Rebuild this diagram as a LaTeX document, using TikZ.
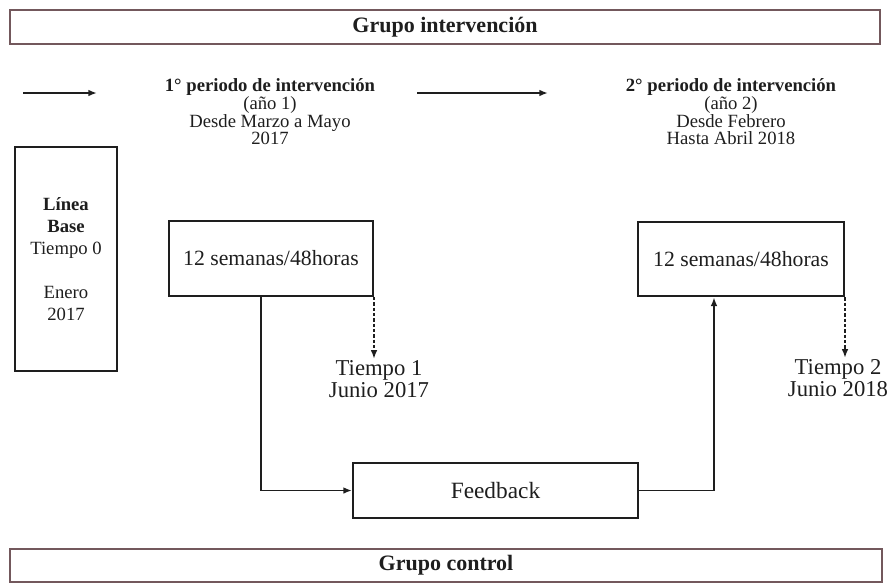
\documentclass[tikz,border=0pt]{standalone}
\usepackage{fontspec}
\setmainfont{Liberation Serif}
\usetikzlibrary{arrows.meta}
\definecolor{ink}{RGB}{30,30,30}
\definecolor{frame}{RGB}{115,88,92}
\begin{document}
\begin{tikzpicture}[x=0.75pt,y=-0.75pt,
  groupbox/.style={draw=frame,line width=1.6pt,fill=white,text=ink,inner sep=0pt,
    font=\fontsize{16.5}{18}\selectfont\bfseries},
  stagebox/.style={draw=ink,line width=1.5pt,inner sep=0pt,text=ink},
  periodtext/.style={align=center,text=ink,inner sep=0pt,font=\fontsize{14}{13.2}\selectfont},
  timetext/.style={align=center,text=ink,inner sep=1pt,font=\fontsize{17}{16.5}\selectfont},
  conn/.style={draw=ink,line width=1.4pt},
  tip/.style={-{Latex[length=6.5pt,width=5pt]}},
  dashconn/.style={draw=ink,line width=1.2pt,dash pattern=on 2.5pt off 1.5pt}
]
\useasboundingbox (0,0) rectangle (891,586);

% group banners
\node[groupbox,minimum width=652.5pt,minimum height=25.5pt] (top) at (445,27) {Grupo intervención};
\node[groupbox,minimum width=654pt,minimum height=24.75pt] (bot) at (446,565.5) {Grupo control};

% period texts
\node[periodtext] (p1) at (270,112) {\textbf{1° periodo de intervención}\\(año 1)\\Desde Marzo a Mayo\\2017};
\node[periodtext] (p2) at (731,112) {\textbf{2° periodo de intervención}\\(año 2)\\Desde Febrero\\Hasta Abril 2018};

% free arrows
\coordinate (a1s) at (23,93);
\coordinate (a1e) at (97,93);
\coordinate (a2s) at (417,93);
\coordinate (a2e) at (548,93);
\draw[conn,tip] (a1s) -- (a1e);
\draw[conn,tip] (a2s) -- (a2e);

% baseline box
\node[stagebox,minimum width=76.5pt,minimum height=168pt,align=center,
  font=\fontsize{14}{16.5}\selectfont] (base) at (66,259)
  {\textbf{Línea}\\\textbf{Base}\\Tiempo 0\\[16pt]Enero\\2017};

% intervention boxes
\node[stagebox,minimum width=153pt,minimum height=56pt,font=\fontsize{16.3}{18}\selectfont] (w1) at (271,258.5) {12 semanas/48horas};
\node[stagebox,minimum width=154.5pt,minimum height=56pt,font=\fontsize{16.3}{18}\selectfont] (w2) at (741,259) {12 semanas/48horas};

% feedback
\node[stagebox,minimum width=213.75pt,minimum height=41.25pt,font=\fontsize{17.5}{18}\selectfont] (fb) at (495.5,490.5) {Feedback};

% time points
\node[timetext] (t1) at (379,379) {Tiempo 1\\Junio 2017};
\node[timetext] (t2) at (838,378) {Tiempo 2\\Junio 2018};

% connectors
\draw[conn,tip] ([xshift=-7.5pt]w1.south) |- (fb.west);
\draw[conn,tip] (fb.east) -| ([xshift=-20.25pt]w2.south);
\draw[dashconn,tip] (w1.south east) -- (w1.south east |- t1.north);
\draw[dashconn,tip] (w2.south east) -- (w2.south east |- t2.north);
\end{tikzpicture}
\end{document}
